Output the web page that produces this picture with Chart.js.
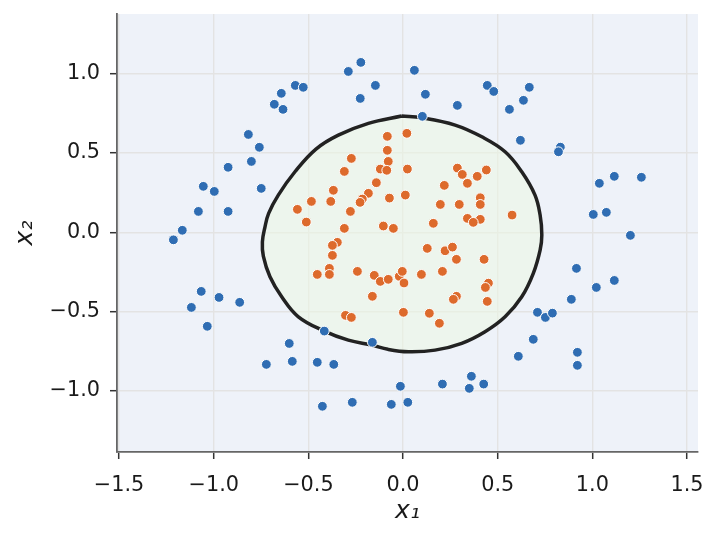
<!DOCTYPE html>
<html>
<head>
<meta charset="utf-8">
<script src="https://cdn.jsdelivr.net/npm/chart.js@4.4.1/dist/chart.umd.min.js"></script>
<style>
  html, body { margin: 0; padding: 0; background: #ffffff; }
  #wrap { width: 720px; height: 537px; }
</style>
</head>
<body>
<div id="wrap"><canvas id="c" width="720" height="537"></canvas></div>
<script>
// ---- data ----
const blueX = [-0.223,-0.289,-0.146,-0.226,-0.569,-0.527,-0.643,-0.680,-0.634,-0.817,-0.759,-0.801,-0.924,-1.055,-0.997,-0.749,-1.081,-0.924,-1.166,-1.213,
  -1.066,-0.972,-1.118,-0.863,-1.034,-0.416,-0.601,-0.162,-0.722,-0.585,-0.453,-0.366,-0.014,-0.426,-0.268,-0.062,0.025,
  0.208,0.361,0.350,0.426,0.609,0.688,0.710,0.752,0.789,0.889,0.916,0.921,0.921,1.021,1.116,1.201,
  0.060,0.118,0.102,0.287,0.445,0.479,0.667,0.636,0.562,0.620,0.831,0.821,1.037,1.116,1.259,1.005,1.074];
const blueY = [1.071,1.014,0.926,0.844,0.926,0.914,0.876,0.807,0.775,0.617,0.536,0.447,0.410,0.290,0.258,0.277,0.132,0.132,0.013,-0.047,
  -0.372,-0.410,-0.473,-0.441,-0.592,-0.622,-0.700,-0.693,-0.832,-0.813,-0.819,-0.832,-0.970,-1.096,-1.071,-1.084,-1.071,
  -0.956,-0.907,-0.983,-0.956,-0.781,-0.674,-0.504,-0.536,-0.509,-0.422,-0.227,-0.756,-0.838,-0.347,-0.303,-0.019,
  1.021,0.870,0.731,0.800,0.926,0.888,0.914,0.832,0.775,0.580,0.537,0.508,0.309,0.353,0.347,0.113,0.126];

const orangeX = [-0.083,0.020,-0.083,-0.078,-0.273,-0.120,-0.086,-0.310,0.023,-0.141,-0.368,-0.183,-0.215,-0.227,-0.072,0.012,-0.484,-0.382,-0.558,-0.278,-0.511,-0.310,-0.104,-0.051,
  0.287,0.313,0.440,0.392,0.340,0.218,0.408,0.408,0.197,0.297,0.576,0.340,0.408,0.371,0.160,
  -0.347,-0.373,-0.373,-0.389,-0.453,-0.389,-0.241,-0.152,-0.120,-0.078,-0.020,-0.004,0.005,-0.162,-0.304,-0.273,0.002,
  0.128,0.222,0.261,0.282,0.428,0.097,0.208,0.451,0.435,0.282,0.266,0.445,0.139,0.192];
const orangeY = [0.605,0.624,0.517,0.447,0.466,0.399,0.391,0.384,0.399,0.313,0.265,0.246,0.210,0.189,0.216,0.235,0.195,0.195,0.145,0.132,0.065,0.025,0.040,0.025,
  0.405,0.365,0.393,0.353,0.309,0.296,0.218,0.176,0.176,0.176,0.109,0.088,0.082,0.063,0.057,
  -0.063,-0.082,-0.145,-0.227,-0.265,-0.265,-0.246,-0.271,-0.309,-0.296,-0.277,-0.246,-0.319,-0.403,-0.523,-0.536,-0.504,
  -0.101,-0.116,-0.093,-0.170,-0.170,-0.265,-0.246,-0.320,-0.347,-0.403,-0.422,-0.435,-0.510,-0.573];

// decision boundary (closed loop)
const boundaryX = [-0.007,0.099,0.275,0.416,0.539,0.627,0.697,0.724,0.733,0.724,0.688,0.627,0.539,0.433,0.310,0.169,0.028,-0.080,-0.162,-0.289,-0.416,-0.553,-0.641,-0.703,-0.738,-0.743,-0.730,-0.710,-0.659,-0.571,-0.460,-0.342,-0.183,-0.007];
const boundaryY = [0.733,0.722,0.676,0.602,0.508,0.382,0.235,0.109,-0.017,-0.112,-0.258,-0.406,-0.532,-0.626,-0.699,-0.742,-0.752,-0.737,-0.711,-0.679,-0.622,-0.532,-0.406,-0.280,-0.150,-0.060,0.030,0.120,0.235,0.382,0.525,0.613,0.687,0.733];

const xTicks = [-1.5,-1.0,-0.5,0.0,0.5,1.0,1.5];
const xTickLabels = ['\u22121.5','\u22121.0','\u22120.5','0.0','0.5','1.0','1.5'];
const yTicks = [-1.0,-0.5,0.0,0.5,1.0];
const yTickLabels = ['\u22121.0','\u22120.5','0.0','0.5','1.0'];

const xLabel = 'x\u2081';
const yLabel = 'x\u2082';

// ---- chart ----
const toPts = (xs, ys) => xs.map((x, i) => ({ x: x, y: ys[i] }));

const bgPlugin = {
  id: 'plotBg',
  beforeDraw(chart) {
    const a = chart.chartArea;
    const ctx = chart.ctx;
    ctx.save();
    ctx.fillStyle = '#eef2f9';
    ctx.fillRect(a.left, a.top, a.right - a.left, a.bottom - a.top);
    ctx.restore();
  }
};

const tickFont = { family: 'DejaVu Sans', size: 20.8 };
const titleFont = { family: 'DejaVu Sans', size: 25, style: 'italic' };

new Chart(document.getElementById('c'), {
  type: 'scatter',
  data: {
    datasets: [
      {
        label: 'class 1',
        data: toPts(orangeX, orangeY),
        backgroundColor: '#dd6a2c',
        borderColor: '#ffffff',
        borderWidth: 1,
        pointRadius: 4.9,
        order: 0
      },
      {
        label: 'class 0',
        data: toPts(blueX, blueY),
        backgroundColor: '#2f6db3',
        borderColor: '#ffffff',
        borderWidth: 1,
        pointRadius: 4.9,
        order: 1
      },
      {
        label: 'boundary',
        data: toPts(boundaryX, boundaryY),
        showLine: true,
        pointRadius: 0,
        borderColor: '#222222',
        borderWidth: 3.5,
        tension: 0.4,
        fill: 'shape',
        backgroundColor: 'rgba(237,248,228,0.55)',
        order: 2
      }
    ]
  },
  options: {
    responsive: false,
    animation: false,
    events: [],
    layout: { padding: { left: 0, top: 14, right: 22, bottom: 0 } },
    plugins: { legend: { display: false }, tooltip: { enabled: false } },
    scales: {
      x: {
        type: 'linear',
        min: -1.511,
        max: 1.558,
        afterBuildTicks: s => { s.ticks = xTicks.map(v => ({ value: v })); },
        afterFit: s => { s.height = 85; s.paddingLeft = 0; s.paddingRight = 0; },
        ticks: {
          autoSkip: false, maxRotation: 0, color: '#1a1a1a',
          font: tickFont, padding: 14,
          callback: (v, i) => xTickLabels[i]
        },
        grid: { color: '#e3e3e3', lineWidth: 1.4, tickColor: '#333', tickLength: 7, tickWidth: 1.5 },
        border: { color: '#666', width: 1.8 },
        title: { display: true, text: xLabel, font: titleFont, color: '#1a1a1a', padding: { top: 0, bottom: 11 } }
      },
      y: {
        type: 'linear',
        min: -1.384,
        max: 1.376,
        afterBuildTicks: s => { s.ticks = yTicks.map(v => ({ value: v })); },
        afterFit: s => { s.width = 117; s.paddingTop = 0; s.paddingBottom = 0; },
        ticks: {
          autoSkip: false, color: '#1a1a1a',
          font: tickFont, padding: 10,
          callback: (v, i) => yTickLabels[i]
        },
        grid: { color: '#e3e3e3', lineWidth: 1.4, tickColor: '#333', tickLength: 7, tickWidth: 1.5 },
        border: { color: '#666', width: 1.8 },
        title: { display: true, text: yLabel, font: titleFont, color: '#1a1a1a', padding: { top: 10, bottom: 0 } }
      }
    }
  },
  plugins: [bgPlugin]
});
</script>
</body>
</html>
